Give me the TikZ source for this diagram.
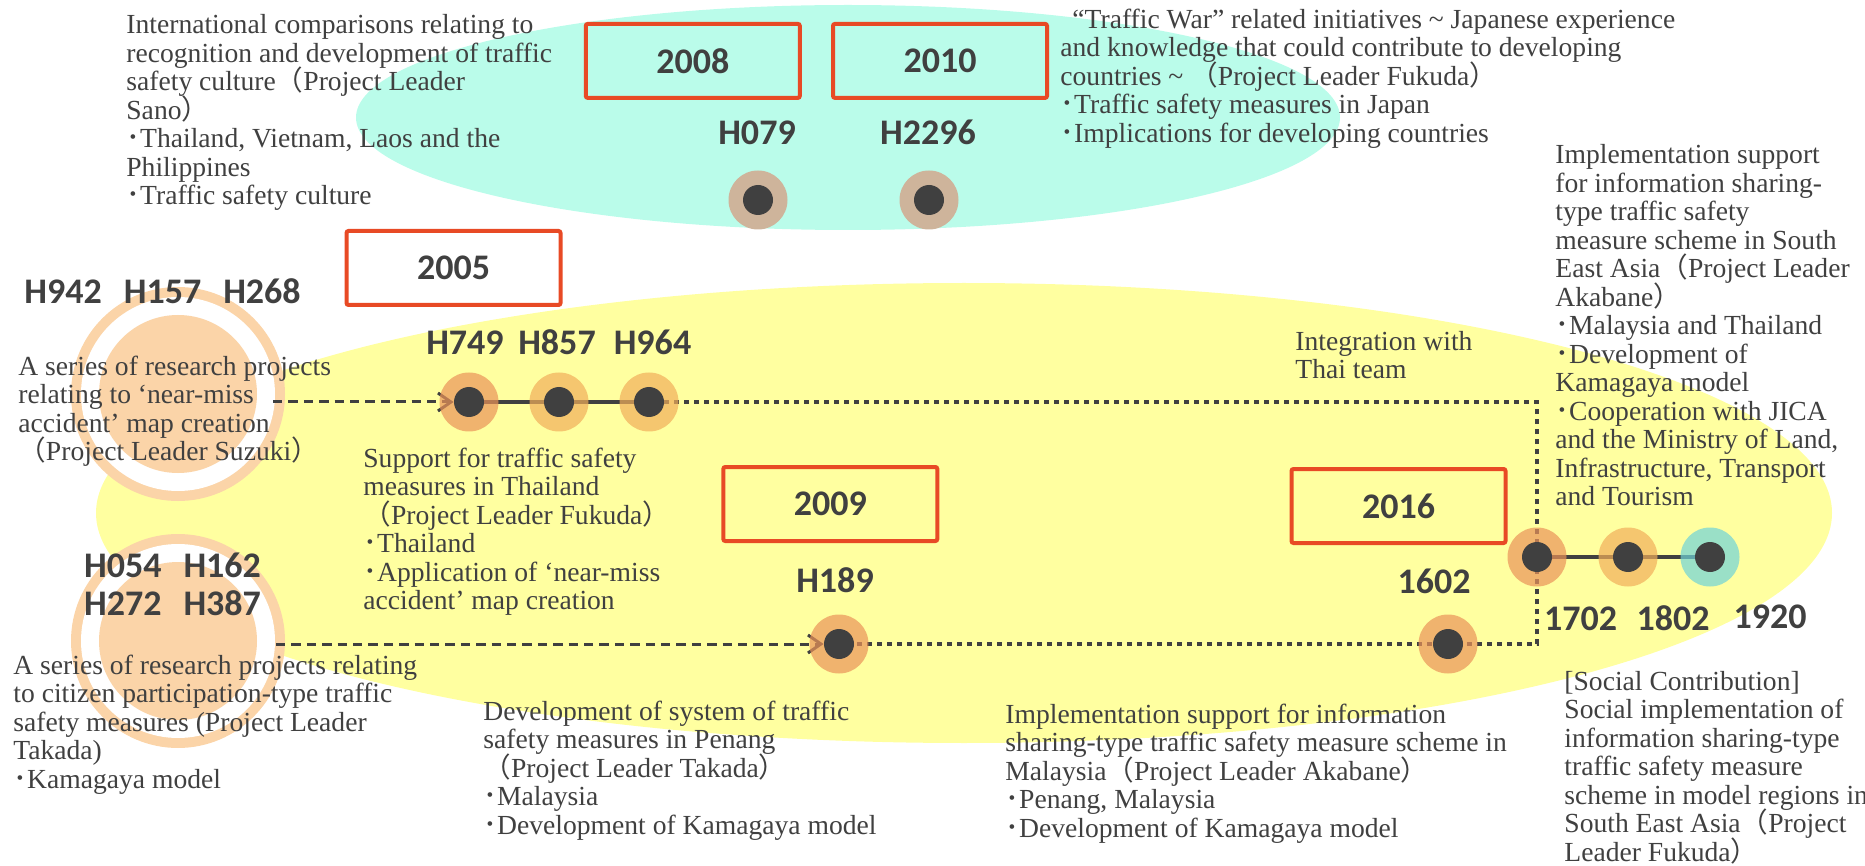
\documentclass[tikz,border=0pt]{standalone}
\usepackage{fontspec}
\setmainfont{Liberation Serif}
\newfontfamily\numfont{Carlito}
\newfontfamily\cjk{Noto Sans CJK JP}
\usetikzlibrary{arrows.meta,backgrounds,positioning,calc}
\tikzset{every picture/.style={line width=0.75pt}}
\definecolor{inkgray}{RGB}{64,64,64}
\definecolor{aqua}{RGB}{186,252,234}
\definecolor{paleyellow}{RGB}{255,255,160}
\definecolor{peach}{RGB}{251,212,168}
\definecolor{boxred}{RGB}{232,74,37}
\definecolor{dottan}{RGB}{206,180,155}
\definecolor{ringA}{RGB}{235,148,89}
\definecolor{ringB}{RGB}{242,174,91}
\definecolor{ringC}{RGB}{112,211,216}
\pgfdeclarelayer{links}
\pgfsetlayers{background,links,main}
\newcommand\kbul{{\cjk ･}}
\newcommand\klp{{\cjk （}}
\newcommand\krp{{\cjk ）}}

\begin{document}
\lineskiplimit=-20pt
\begin{tikzpicture}[x=0.5pt, y=-0.5pt,
    body/.style={anchor=north west, inner sep=0pt, align=left, text=inkgray,
        font=\fontsize{13.8}{14.25}\selectfont},
    idtag/.style={anchor=base, inner sep=0pt, text=inkgray,
        font=\numfont\bfseries\fontsize{18}{20}\selectfont},
    yearbox/.style={draw=boxred, line width=2pt, rounded corners=1pt,
        minimum width=107pt, minimum height=37pt, inner sep=0pt, text=inkgray,
        font=\numfont\bfseries\fontsize{18}{20}\selectfont},
    hub/.style={circle, fill=inkgray, minimum size=15pt, inner sep=0pt},
    link/.style={inkgray, line width=2pt},
    dotlink/.style={inkgray, line width=2pt, dash pattern=on 2.5pt off 2.5pt},
    feed/.style={inkgray, line width=1.5pt, dash pattern=on 4.7pt off 3pt,
        -{Straight Barb[length=6.5pt, width=9pt]}}]
    \useasboundingbox (0,0) rectangle (1865,866);

    % 背景椭圆与左侧圆
    \begin{pgfonlayer}{background}
    \fill[aqua] (848,117.5) ellipse [x radius=492, y radius=112.5];
    \fill[paleyellow] (964,513) ellipse [x radius=868, y radius=230];
    \foreach \cy in {394,641} {
        \fill[peach] (178,\cy) circle (107);
        \fill[white] (178,\cy) circle (97);
        \fill[peach] (178,\cy) circle (79);
    }
    \end{pgfonlayer}

    % 年份方框
    \node[yearbox] (y2008) at (692.8,60.9) {2008};
    \node[yearbox] (y2010) at (940,60.9) {2010};
    \node[yearbox] (y2005) at (453.5,268) {2005};
    \node[yearbox] (y2009) at (830.3,504) {2009};
    \node[yearbox] (y2016) at (1398.5,506) {2016};

    % 项目圆点
    \fill[dottan] (758,200) circle (29.5);
    \fill[dottan] (929,200) circle (29.5);
    \node[hub] (t1) at (758,200) {};
    \node[hub] (t2) at (929,200) {};
    \foreach \name/\px/\py/\col in {p1/469/402/ringA, p2/559/402/ringB, p3/649/402/ringB,
        p4/839/644/ringA, p5/1448/644/ringA, p6/1537/557/ringA, p7/1628/557/ringB,
        p8/1710/557/ringC} {
        \fill[\col, fill opacity=0.7] (\px,\py) circle (29.5);
        \node[hub] (\name) at (\px,\py) {};
    }

    % 连线
    \coordinate (s1) at (273,402);
    \coordinate (s2) at (276,644);
    \begin{pgfonlayer}{links}
    \draw[feed] (s1) -- (p1);
    \draw[feed] (s2) -- (p4);
    \draw[link] (p1) -- (p2) -- (p3);
    \draw[link] (p6) -- (p7) -- (p8);
    \draw[dotlink] (p3) -- (p3 -| p6) -- (p4 -| p6) -- (p4);
    \end{pgfonlayer}

    % 编号
    \node[idtag] (n1) at (162.5,304) {H942\hspace{11pt}H157\hspace{11pt}H268};
    \node[idtag] (n2) at (172.5,577) {H054\hspace{11pt}H162};
    \node[idtag] (n3) at (172.5,615) {H272\hspace{11pt}H387};
    \node[idtag] (n4) at (465,355) {H749};
    \node[idtag] (n5) at (557,355) {H857};
    \node[idtag] (n6) at (652.5,355) {H964};
    \node[idtag] (n7) at (757,145) {H079};
    \node[idtag] (n8) at (928,145) {H2296};
    \node[idtag] (n9) at (835,592) {H189};
    \node[idtag] (n10) at (1434,593) {1602};
    \node[idtag] (n11) at (1580.5,630) {1702};
    \node[idtag] (n12) at (1673,630) {1802};
    \node[idtag] (n13) at (1770,628) {1920};

    % 说明文字
    \node[body] (sano) at (126,13.3) {\strut International comparisons relating to\\
        recognition and development of traffic\\safety culture\klp Project Leader\\
        Sano\krp\\\kbul Thailand, Vietnam, Laos and the\\Philippines\\
        \kbul Traffic safety culture};
    \node[body] (war) at (1060,8) {\strut\hspace{6pt}“Traffic War” related initiatives
        \textasciitilde{} Japanese experience\\
        and knowledge that could contribute to developing\\
        countries \textasciitilde{} \klp Project Leader Fukuda\krp\\
        \kbul Traffic safety measures in Japan\\\kbul Implications for developing countries};
    \node[body] (asia) at (1555,143.3) {\strut Implementation support\\
        for information sharing-\\type traffic safety\\measure scheme in South\\
        East Asia\klp Project Leader\\Akabane\krp\\\kbul Malaysia and Thailand\\
        \kbul Development of\\Kamagaya model\\\kbul Cooperation with JICA\\
        and the Ministry of Land,\\Infrastructure, Transport\\and Tourism};
    \node[body] (suzuki) at (18,355) {\strut A series of research projects\\
        relating to ‘near-miss\\accident’ map creation\\\klp Project Leader Suzuki\krp};
    \node[body] (thai) at (363,447) {\strut Support for traffic safety\\
        measures in Thailand\\\klp Project Leader Fukuda\krp\\\kbul Thailand\\
        \kbul Application of ‘near-miss\\accident’ map creation};
    \node[body] (citizen) at (13,654) {\strut A series of research projects relating\\
        to citizen participation-type traffic\\safety measures (Project Leader\\
        Takada)\\\kbul Kamagaya model};
    \node[body] (penang) at (483,700) {\strut Development of system of traffic\\
        safety measures in Penang\\\klp Project Leader Takada\krp\\\kbul Malaysia\\
        \kbul Development of Kamagaya model};
    \node[body] (malay) at (1005,703) {\strut Implementation support for information\\
        sharing-type traffic safety measure scheme in\\
        Malaysia\klp Project Leader Akabane\krp\\\kbul Penang, Malaysia\\
        \kbul Development of Kamagaya model};
    \node[body] (social) at (1564,670) {\strut[Social Contribution]\\
        Social implementation of\\information sharing-type\\traffic safety measure\\
        scheme in model regions in\\South East Asia\klp Project\\Leader Fukuda\krp};
    \node[body] (integ) at (1295,330) {\strut Integration with\\Thai team};
\end{tikzpicture}
\end{document}
